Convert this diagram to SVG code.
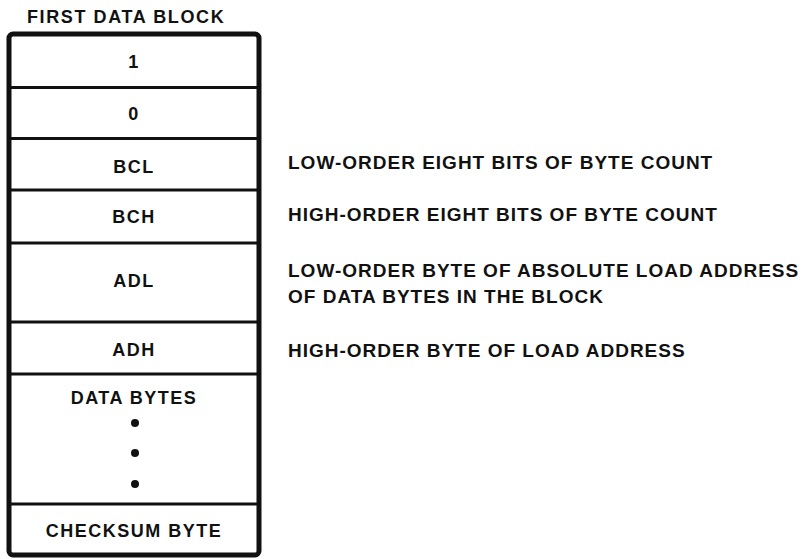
<svg xmlns="http://www.w3.org/2000/svg" width="806" height="559" viewBox="0 0 806 559">
<style>
text{font-family:"Liberation Sans",Arial,Helvetica,sans-serif;font-weight:bold;fill:#111;}
.cell{font-size:18px;letter-spacing:1.5px;text-anchor:middle;}
.note{font-size:19px;letter-spacing:1px;}
.title{font-size:18px;letter-spacing:1.6px;}
.frame{fill:#fff;stroke:#111;stroke-width:5;}
.div{stroke:#111;stroke-width:3;}
.dot{fill:#111;}
</style>
<rect width="806" height="559" fill="#fff"/>
<text class="title" x="27" y="23">FIRST DATA BLOCK</text>
<g id="block">
<rect class="frame" x="9" y="34" width="250" height="521" rx="4"/>
<line class="div" x1="9" y1="87.5" x2="259" y2="87.5"/>
<line class="div" x1="9" y1="138.5" x2="259" y2="138.5"/>
<line class="div" x1="9" y1="190" x2="259" y2="190"/>
<line class="div" x1="9" y1="243" x2="259" y2="243"/>
<line class="div" x1="9" y1="322" x2="259" y2="322"/>
<line class="div" x1="9" y1="374" x2="259" y2="374"/>
<line class="div" x1="9" y1="504" x2="259" y2="504"/>
</g>
<g id="cell-1"><text class="cell" x="134" y="68">1</text></g>
<g id="cell-0"><text class="cell" x="134" y="120">0</text></g>
<g id="cell-bcl"><text class="cell" x="134" y="173">BCL</text></g>
<g id="cell-bch"><text class="cell" x="134" y="223">BCH</text></g>
<g id="cell-adl"><text class="cell" x="134" y="287">ADL</text></g>
<g id="cell-adh"><text class="cell" x="134" y="356">ADH</text></g>
<g id="cell-data">
<text class="cell" x="134" y="404">DATA BYTES</text>
<circle class="dot" cx="135" cy="423" r="4"/>
<circle class="dot" cx="135" cy="453" r="4"/>
<circle class="dot" cx="135" cy="484" r="4"/>
</g>
<g id="cell-checksum"><text class="cell" x="134" y="537">CHECKSUM BYTE</text></g>
<g id="notes">
<text class="note" x="288" y="169">LOW-ORDER EIGHT BITS OF BYTE COUNT</text>
<text class="note" x="288" y="221">HIGH-ORDER EIGHT BITS OF BYTE COUNT</text>
<text class="note" x="288" y="277">LOW-ORDER BYTE OF ABSOLUTE LOAD ADDRESS</text>
<text class="note" x="288" y="303">OF DATA BYTES IN THE BLOCK</text>
<text class="note" x="288" y="357">HIGH-ORDER BYTE OF LOAD ADDRESS</text>
</g>
<g id="connectors"/>
</svg>
